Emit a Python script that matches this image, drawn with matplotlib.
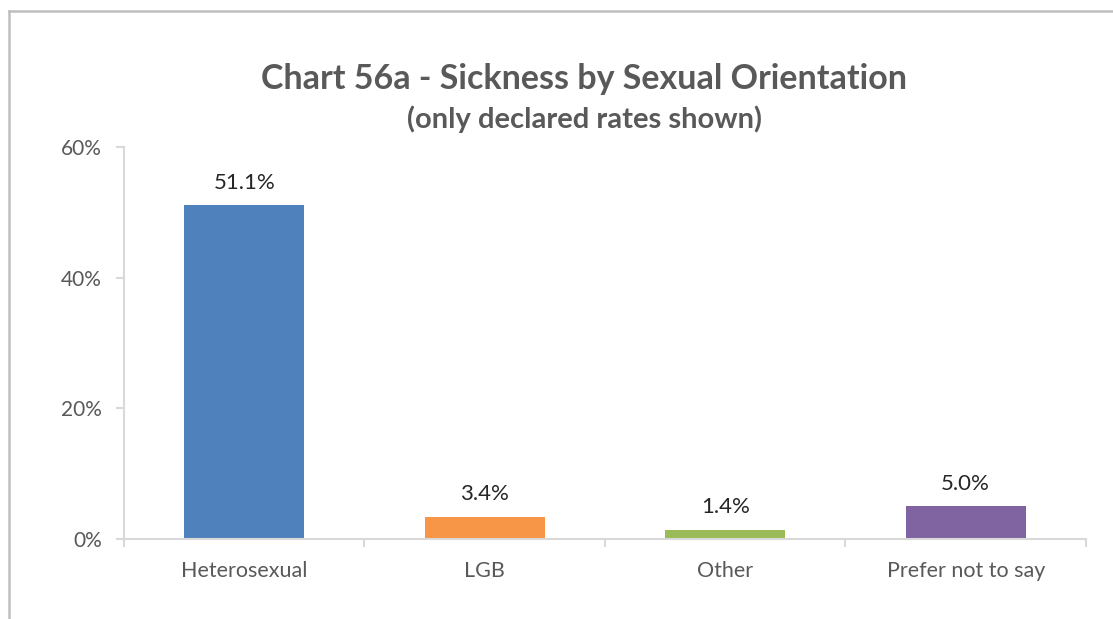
import matplotlib
matplotlib.use("Agg")
import matplotlib.pyplot as plt
from matplotlib.lines import Line2D
from matplotlib.ticker import FuncFormatter

categories = ["Heterosexual", "LGB", "Other", "Prefer not to say"]
values = [51.1, 3.4, 1.4, 5.0]
colors = ["#4F81BD", "#F79646", "#9BBB59", "#8064A2"]
yticks = [0, 20, 40, 60]

plt.rcParams["font.family"] = ["Lato", "DejaVu Sans"]

fig = plt.figure(figsize=(11.13, 6.19), dpi=100)
ax = fig.add_axes([0.1114, 0.1292, 0.8643, 0.6333])

x = range(len(categories))
ax.bar(x, values, width=0.5, color=colors, zorder=2)
for xi, v in zip(x, values):
    ax.annotate(f"{v:.1f}%", xy=(xi, v), xytext=(0, 9),
                textcoords="offset points", ha="center", va="bottom",
                fontsize=16, color="#262626")

ax.set_xlim(-0.5, len(categories) - 0.5)
ax.set_ylim(0, 60)
ax.set_yticks(yticks)
ax.yaxis.set_major_formatter(FuncFormatter(lambda v, p: f"{v:.0f}%"))
ax.set_xticks([i - 0.5 for i in range(len(categories) + 1)], minor=False)
ax.set_xticklabels([])
ax.set_xticks(list(x), minor=True)
ax.set_xticklabels(categories, minor=True)
ax.tick_params(axis="x", which="minor", length=0, pad=16,
               labelsize=15.5, labelcolor="#595959")
ax.tick_params(axis="x", which="major", length=6, width=1.5, color="#D9D9D9")
ax.tick_params(axis="y", length=6, width=1.5, color="#D9D9D9",
               labelsize=15, labelcolor="#595959", pad=10)

for s in ("top", "right"):
    ax.spines[s].set_visible(False)
for s in ("left", "bottom"):
    ax.spines[s].set_color("#D9D9D9")
    ax.spines[s].set_linewidth(1.5)

fig.text(0.525, 0.857, "Chart 56a - Sickness by Sexual Orientation",
         ha="center", va="baseline", fontsize=24.5, fontweight="bold",
         color="#595959")
fig.text(0.525, 0.793, "(only declared rates shown)",
         ha="center", va="baseline", fontsize=21, fontweight="bold",
         color="#595959")

# chart area frame (left and top edges)
fig.add_artist(Line2D([9 / 1113, 9 / 1113], [0, 1 - 11 / 619],
                      transform=fig.transFigure, color="#BFBFBF", lw=1.8))
fig.add_artist(Line2D([9 / 1113, 1], [1 - 11 / 619, 1 - 11 / 619],
                      transform=fig.transFigure, color="#BFBFBF", lw=1.8))

fig.savefig("out.png", dpi=100)
